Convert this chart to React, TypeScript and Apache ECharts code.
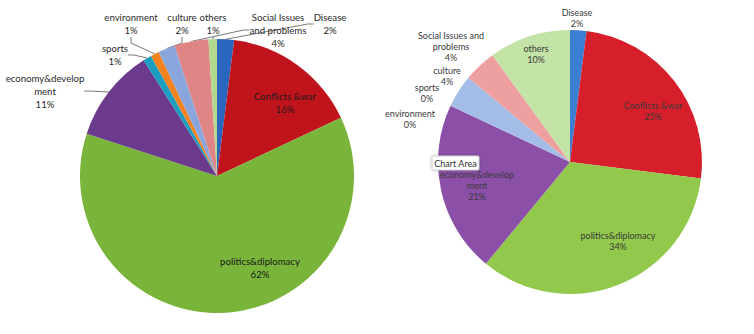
import React, { useEffect, useRef } from "react";
import * as echarts from "echarts";

// ---- data ----
const leftNames = [
  "Disease",
  "Conflicts &war",
  "politics&diplomacy",
  "economy&development",
  "sports",
  "environment",
  "culture",
  "Social Issues and problems",
  "others",
];
const leftValues = [2, 16, 62, 11, 1, 1, 2, 4, 1];
const leftLabelText = [
  "Disease",
  "Conflicts &war",
  "politics&diplomacy",
  "economy&develop\nment",
  "sports",
  "environment",
  "culture",
  "Social Issues\nand problems",
  "others",
];

const rightNames = [
  "Disease",
  "Conflicts &war",
  "politics&diplomacy",
  "economy&development",
  "environment",
  "sports",
  "culture",
  "Social Issues and problems",
  "others",
];
const rightValues = [2, 25, 34, 21, 0, 0, 4, 4, 10];
const rightLabelText = [
  "Disease",
  "Conflicts &war",
  "politics&diplomacy",
  "economy&develop\nment",
  "environment",
  "sports",
  "culture",
  "Social Issues and\nproblems",
  "others",
];

// ---- styles / layout ----
const leftColors = ["#2a66bd", "#c0141c", "#79b43b", "#6c3a8d", "#1d9dbf", "#f58220", "#8aa6dc", "#e08585", "#b3d98f"];
const rightColors = ["#3b7fd4", "#d61f2a", "#92c94d", "#8b4fa8", "#9a9a9a", "#9a9a9a", "#a3bde6", "#eea0a0", "#c4e3a6"];
const leftLabelPos: [number, number][] = [
  [330, 24], [285, 103], [260, 268], [45, 91], [115, 55], [131, 24], [182, 24], [278, 30], [213, 24],
];
const rightLabelPos: [number, number][] = [
  [577, 18], [653, 111], [618, 241], [477, 185], [410, 119], [427, 93], [447, 76], [451, 46], [536, 54],
];
const leftInside = [false, true, true, false, false, false, false, false, false];

export default function App() {
  const ref = useRef<HTMLDivElement>(null);
  useEffect(() => {
    if (!ref.current) return;
    const chart = echarts.init(ref.current, undefined, { renderer: "svg" });
    chart.setOption({
      animation: false,
      backgroundColor: "#ffffff",
      series: [
        {
          type: "pie",
          center: [217, 176],
          radius: 137,
          startAngle: 90,
          clockwise: true,
          avoidLabelOverlap: false,
          data: leftNames.map((n, i) => ({
            name: n,
            value: leftValues[i],
            itemStyle: { color: leftColors[i] },
            label: { color: leftInside[i] ? "#1a1a1a" : "#2a2a2a" },
            labelLine: { show: !leftInside[i] },
          })),
          label: {
            show: true,
            position: "outside",
            fontFamily: "Lato",
            fontSize: 9.6,
            lineHeight: 13,
            align: "center",
            formatter: (p: any) => `${leftLabelText[p.dataIndex]}\n${p.value}%`,
          },
          labelLine: { show: true, length: 6, length2: 6, lineStyle: { color: "#7a7a7a", width: 1 } },
          labelLayout: (p: any) => ({
            x: leftLabelPos[p.dataIndex][0],
            y: leftLabelPos[p.dataIndex][1],
            align: "center",
            verticalAlign: "middle",
          }),
        },
        {
          type: "pie",
          center: [570, 162],
          radius: 132,
          startAngle: 90,
          clockwise: true,
          avoidLabelOverlap: false,
          stillShowZeroSum: true,
          data: rightNames.map((n, i) => ({
            name: n,
            value: rightValues[i],
            itemStyle: { color: rightColors[i] },
          })),
          label: {
            show: true,
            position: "outside",
            fontFamily: "Lato",
            fontSize: 9,
            lineHeight: 11,
            color: "#3a3a3a",
            align: "center",
            formatter: (p: any) => `${rightLabelText[p.dataIndex]}\n${p.value}%`,
          },
          labelLine: { show: false },
          labelLayout: (p: any) => ({
            x: rightLabelPos[p.dataIndex][0],
            y: rightLabelPos[p.dataIndex][1],
            align: "center",
            verticalAlign: "middle",
          }),
        },
      ],
      graphic: [
        {
          type: "rect",
          z: 100,
          shape: { x: 432, y: 156, width: 47, height: 14, r: 1 },
          style: { fill: "#ffffff", stroke: "#d0d0d0", lineWidth: 1, shadowBlur: 3, shadowColor: "rgba(0,0,0,0.25)" },
        },
        {
          type: "text",
          z: 101,
          x: 455.5,
          y: 163,
          style: {
            text: "Chart Area",
            fontFamily: "Lato",
            fontSize: 9,
            fill: "#333333",
            align: "center",
            verticalAlign: "middle",
          },
        },
      ],
    });
    return () => chart.dispose();
  }, []);
  return (
    <div
      ref={ref}
      style={{ position: "fixed", left: 0, top: 0, width: 754, height: 334, background: "#fff" }}
    />
  );
}
